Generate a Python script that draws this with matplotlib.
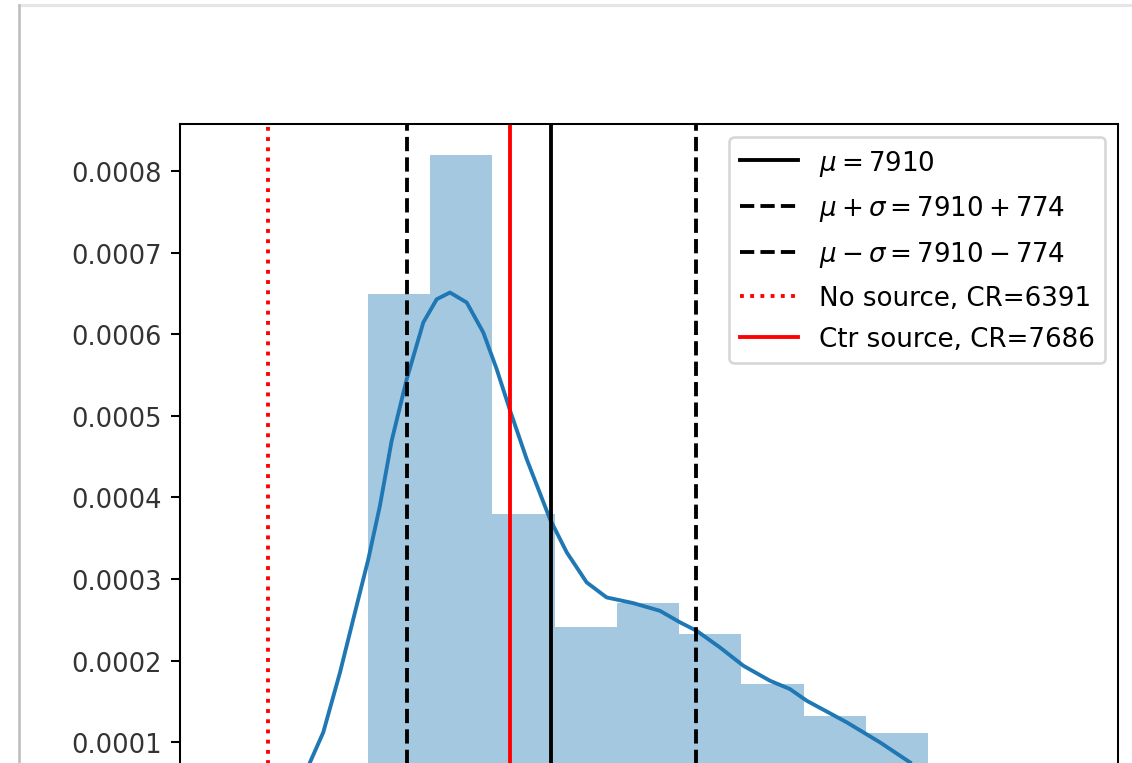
import matplotlib
matplotlib.use('Agg')
import matplotlib.pyplot as plt
from matplotlib.lines import Line2D
import numpy as np

# histogram (density)
bin_edges = [6925, 7259, 7593, 7927, 8261, 8595, 8929, 9263, 9597, 9931]
bin_heights = [0.000649, 0.000820, 0.000380, 0.000241, 0.000271,
               0.000232, 0.000171, 0.000132, 0.000111]

# kde curve, visible part only
kde_x = [6614, 6685, 6775, 6864, 6927, 6989, 7052, 7133, 7222, 7294,
         7365, 7455, 7544, 7616, 7687, 7777, 7902, 7992, 8099, 8206,
         8349, 8492, 8600, 8689, 8814, 8940, 9083, 9190, 9280, 9495,
         9673, 9834]
kde_y = [0.0000752, 0.0001119, 0.0001855, 0.0002671, 0.0003244, 0.0003897,
         0.0004694, 0.0005451, 0.0006146, 0.0006431, 0.0006513, 0.0006391,
         0.0006023, 0.0005573, 0.0005071, 0.0004470, 0.0003734, 0.0003326,
         0.0002958, 0.0002774, 0.0002704, 0.0002610, 0.0002468, 0.0002365,
         0.0002161, 0.0001936, 0.0001752, 0.0001650, 0.0001507, 0.0001242,
         0.0000997, 0.0000752]

mu = 7910
sigma = 774
cr_nosrc = 6391
cr_ctr = 7686

fig = plt.figure(figsize=(1132/185, 764/185), dpi=185)
ax = fig.add_axes([180/1132, 1 - 824.6/764, 938/1132, 699.6/764])

widths = np.diff(bin_edges)
ax.bar(bin_edges[:-1], bin_heights, width=widths, align='edge',
       color='#1f77b4', alpha=0.4, linewidth=0)
ax.plot(kde_x, kde_y, color='#1f77b4', solid_joinstyle='round')

ax.axvline(mu, color='k', label=r'$\mu=%d$' % mu)
ax.axvline(mu + sigma, color='k', linestyle='--',
           label=r'$\mu+\sigma=%d+%d$' % (mu, sigma))
ax.axvline(mu - sigma, color='k', linestyle='--',
           label=r'$\mu-\sigma=%d-%d$' % (mu, sigma))
ax.axvline(cr_nosrc, color='r', linestyle=':', label='No source, CR=%d' % cr_nosrc)
ax.axvline(cr_ctr, color='r', label='Ctr source, CR=%d' % cr_ctr)

ax.set_xlim(5916, 10951)
ax.set_ylim(0, 0.000858)
ax.set_yticks([0.0001, 0.0002, 0.0003, 0.0004, 0.0005, 0.0006, 0.0007, 0.0008])
ax.set_yticklabels(['0.0001', '0.0002', '0.0003', '0.0004',
                    '0.0005', '0.0006', '0.0007', '0.0008'], color='#333333')
ax.set_xticklabels([])  # x labels fall below the cropped area
ax.legend(loc='upper right', labelspacing=0.6, handlelength=2.2,
          prop={'size': 10.2})

# notebook frame from the screenshot
fig.add_artist(Line2D([19/1132, 1], [1 - 5.5/764, 1 - 5.5/764],
                      transform=fig.transFigure, color='#e6e6e6', lw=1.2))
fig.add_artist(Line2D([19/1132, 19/1132], [0, 1 - 5.5/764],
                      transform=fig.transFigure, color='#bdbdbd', lw=1.0))

plt.savefig('out.png', dpi=185)
